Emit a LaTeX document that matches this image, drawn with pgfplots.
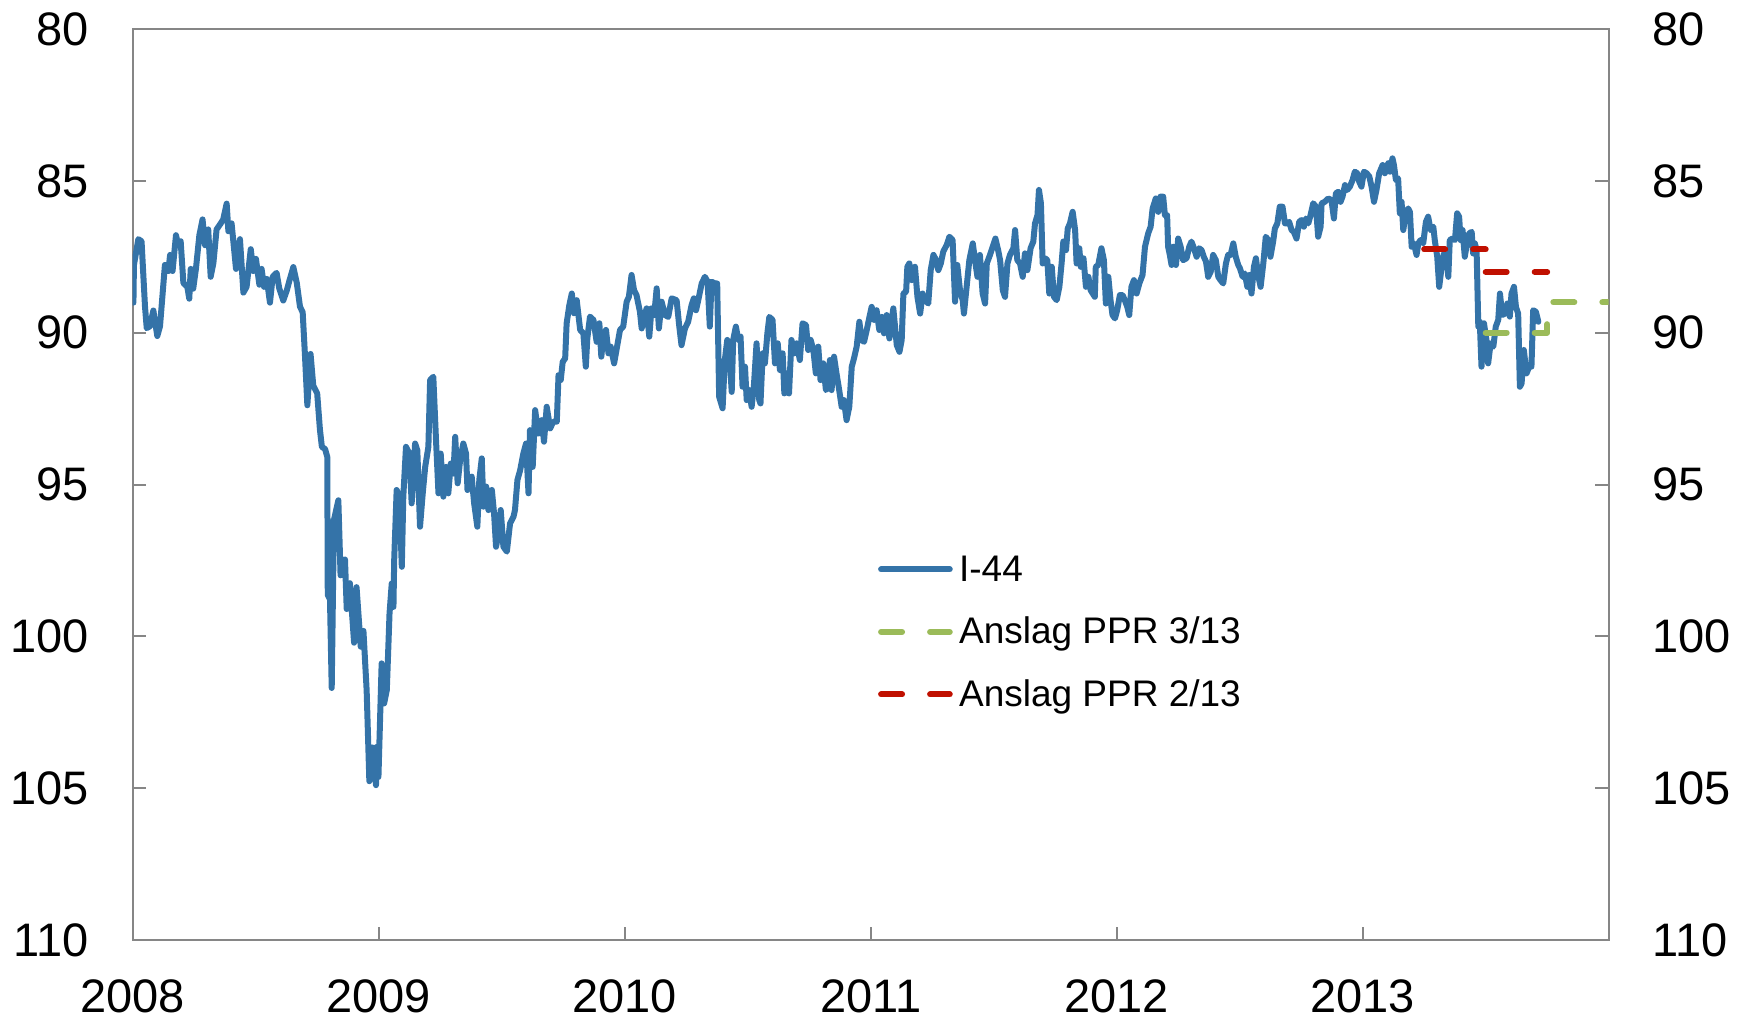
\documentclass[border=0pt]{standalone}
\usepackage{fontspec}
\setmainfont{Liberation Sans}
\usepackage{pgfplots}
\pgfplotsset{compat=1.18}
\definecolor{ablue}{RGB}{52,115,168}
\definecolor{agreen}{RGB}{155,187,89}
\definecolor{ared}{RGB}{192,16,0}
\definecolor{axisgray}{RGB}{134,134,134}
\newcommand{\tickfont}{\fontsize{14.1pt}{14.1pt}\selectfont}
\newcommand{\legfont}{\fontsize{11.1pt}{11.1pt}\selectfont}
\begin{document}
\begin{tikzpicture}
\useasboundingbox (-39.81pt,-23.7pt) rectangle (484.59pt,282.0pt);
\begin{axis}[
  at={(0pt,0pt)}, anchor=south west,
  scale only axis, width=442.8pt, height=273.3pt,
  xmin=2008, xmax=2014, ymin=80, ymax=110, y dir=reverse,
  xtick={2008,2009,2010,2011,2012,2013},
  ytick={80,85,90,95,100,105,110},
  xtick pos=bottom, ytick pos=both, yticklabel pos=left,
  tick align=inside, major tick length=4pt,
  axis line style={draw=axisgray, line width=0.6pt},
  every tick/.style={draw=axisgray, line width=0.6pt},
  /pgf/number format/assume math mode=true,
  /pgf/number format/1000 sep={},
  ticklabel style={font=\tickfont},
  yticklabel style={anchor=east, inner sep=0pt, xshift=-13pt},
  xticklabel style={anchor=north, inner sep=0pt, yshift=-11.7pt},
  legend image code/.code={\draw[#1,line cap=round] (0pt,0pt) -- (20.6pt,0pt);},
  legend style={at={(axis description cs:0.5050,0.4199)}, anchor=north west,
    draw=none, fill=none, inner sep=0pt, outer sep=0pt,
    /tikz/row sep=11.6pt, /tikz/column sep=1.9pt,
    cells={anchor=west},
    nodes={inner sep=0pt, text height=0.716em, text depth=0pt, font=\legfont}},
]
\addplot[ablue, line width=1.8pt, line join=round, line cap=round] coordinates {
(2008.003,89.01) (2008.005,87.77) (2008.023,86.92) (2008.036,86.99) (2008.050,89.14)
(2008.057,89.85) (2008.070,89.79) (2008.084,89.27) (2008.100,90.11) (2008.111,89.79)
(2008.122,88.68) (2008.131,87.77) (2008.145,87.97) (2008.152,87.44) (2008.162,87.97)
(2008.176,86.79) (2008.185,87.12) (2008.195,86.99) (2008.206,88.36) (2008.222,88.49)
(2008.230,88.88) (2008.236,87.90) (2008.246,88.55) (2008.257,87.90) (2008.271,86.79)
(2008.284,86.27) (2008.294,87.12) (2008.307,86.60) (2008.317,88.16) (2008.328,87.71)
(2008.341,86.60) (2008.358,86.40) (2008.368,86.27) (2008.382,85.75) (2008.389,86.66)
(2008.402,86.40) (2008.420,87.90) (2008.436,86.92) (2008.450,88.68) (2008.463,88.49)
(2008.480,87.25) (2008.490,87.97) (2008.501,87.57) (2008.515,88.42) (2008.524,87.90)
(2008.534,88.49) (2008.545,88.23) (2008.558,89.01) (2008.569,88.16) (2008.585,88.03)
(2008.596,88.55) (2008.612,88.94) (2008.626,88.62) (2008.637,88.29) (2008.653,87.84)
(2008.667,88.36) (2008.680,89.14) (2008.691,89.33) (2008.700,90.70) (2008.710,92.39)
(2008.723,90.70) (2008.734,91.74) (2008.750,92.00) (2008.761,93.18) (2008.769,93.76)
(2008.782,93.83) (2008.791,94.09) (2008.793,98.64) (2008.802,98.78) (2008.809,101.70)
(2008.818,96.17) (2008.836,95.52) (2008.845,97.99) (2008.863,97.47) (2008.870,99.10)
(2008.883,98.25) (2008.900,100.21) (2008.910,98.38) (2008.927,100.34) (2008.938,99.82)
(2008.951,101.77) (2008.962,104.77) (2008.975,103.66) (2008.989,104.90)
(2008.992,103.64) (2008.999,104.63) (2009.012,100.89) (2009.022,102.21) (2009.033,101.77)
(2009.044,99.25) (2009.053,98.26) (2009.060,99.03) (2009.063,97.49) (2009.073,95.18)
(2009.084,95.40) (2009.094,97.71) (2009.100,95.40) (2009.111,93.76) (2009.125,93.98)
(2009.134,95.62) (2009.148,93.65) (2009.157,93.87) (2009.168,96.39) (2009.179,95.29)
(2009.189,94.42) (2009.202,93.76) (2009.209,91.56) (2009.222,91.45) (2009.233,93.54)
(2009.243,95.29) (2009.252,93.98) (2009.263,95.40) (2009.274,94.42) (2009.283,95.29)
(2009.293,94.31) (2009.304,94.64) (2009.311,93.43) (2009.321,94.96) (2009.331,94.20)
(2009.344,93.65) (2009.355,93.98) (2009.361,95.18) (2009.378,94.74) (2009.388,95.62)
(2009.401,96.39) (2009.409,94.85) (2009.419,94.14) (2009.426,95.73) (2009.437,95.07)
(2009.446,95.84) (2009.460,95.18) (2009.469,95.95) (2009.477,97.05) (2009.487,96.61)
(2009.496,95.84) (2009.507,97.05) (2009.521,97.21) (2009.534,96.28) (2009.548,96.06)
(2009.554,95.84) (2009.564,94.85) (2009.575,94.53) (2009.588,93.98) (2009.599,93.65)
(2009.609,95.29) (2009.615,93.21) (2009.626,94.42) (2009.636,92.55) (2009.649,93.32)
(2009.663,92.88) (2009.672,93.59) (2009.683,92.44) (2009.697,93.15) (2009.710,92.93)
(2009.724,92.93) (2009.731,91.40) (2009.740,91.56) (2009.748,90.96) (2009.758,90.85)
(2009.764,89.69) (2009.775,89.09) (2009.785,88.71) (2009.794,89.36) (2009.805,88.93)
(2009.819,89.91) (2009.832,90.02) (2009.842,91.12) (2009.848,90.19) (2009.859,89.47)
(2009.873,89.58) (2009.886,90.30) (2009.897,89.69) (2009.905,90.79) (2009.913,90.13)
(2009.924,89.91) (2009.934,90.68) (2009.943,90.46) (2009.957,91.01)
(2009.981,89.91) (2009.994,89.80) (2010.008,88.98) (2010.017,88.82) (2010.028,88.10)
(2010.038,88.60) (2010.048,88.76) (2010.062,89.31) (2010.069,89.86) (2010.078,89.53)
(2010.089,89.20) (2010.100,90.13) (2010.109,89.20) (2010.120,89.42) (2010.130,88.54)
(2010.139,89.86) (2010.150,88.98) (2010.164,89.42) (2010.177,89.48) (2010.191,88.87)
(2010.211,88.93) (2010.222,89.80) (2010.231,90.41) (2010.245,89.86) (2010.258,89.64)
(2010.272,89.09) (2010.281,88.87) (2010.290,89.26) (2010.299,88.93) (2010.313,88.38)
(2010.326,88.16) (2010.337,88.32) (2010.346,89.80) (2010.353,88.32) (2010.367,88.38)
(2010.376,88.38) (2010.384,92.11) (2010.398,92.49) (2010.407,90.90) (2010.417,90.24)
(2010.425,90.57) (2010.435,91.95) (2010.441,90.24) (2010.452,89.80) (2010.462,90.24)
(2010.471,90.13) (2010.479,91.78) (2010.489,91.12) (2010.496,92.22) (2010.506,91.89)
(2010.516,92.44) (2010.525,91.78) (2010.536,90.35) (2010.547,92.22) (2010.552,92.33)
(2010.561,90.68) (2010.570,91.01) (2010.580,90.02) (2010.588,89.48) (2010.601,89.58)
(2010.611,91.01) (2010.622,90.35) (2010.631,91.23) (2010.642,90.68) (2010.649,92.00)
(2010.658,91.34) (2010.668,92.00) (2010.678,90.24) (2010.689,90.68) (2010.699,90.35)
(2010.712,90.90) (2010.723,89.69) (2010.737,89.75) (2010.746,90.57) (2010.756,90.24)
(2010.767,90.57) (2010.777,91.34) (2010.787,90.46) (2010.796,91.56) (2010.807,91.01)
(2010.818,91.89) (2010.828,91.78) (2010.834,90.90) (2010.841,91.89) (2010.851,90.79)
(2010.861,91.34) (2010.872,91.89) (2010.882,92.44) (2010.891,92.22) (2010.902,92.88)
(2010.913,92.44)
(2010.923,91.12) (2010.932,90.85) (2010.943,90.46) (2010.954,89.64) (2010.963,90.24)
(2010.973,90.30) (2010.984,89.91) (2010.995,89.48) (2011.004,89.15) (2011.014,89.58)
(2011.024,89.26) (2011.035,89.91) (2011.045,89.48) (2011.054,90.02) (2011.065,89.42)
(2011.076,90.19) (2011.092,89.20) (2011.106,90.41) (2011.117,90.63) (2011.126,90.24)
(2011.133,88.71) (2011.144,88.65) (2011.149,87.83) (2011.157,87.72) (2011.167,88.27)
(2011.180,87.83) (2011.190,88.82) (2011.201,89.37) (2011.211,88.71) (2011.221,88.93)
(2011.234,89.04) (2011.244,87.94) (2011.255,87.44) (2011.266,87.61) (2011.275,87.94)
(2011.285,87.72) (2011.295,87.33) (2011.309,87.11) (2011.320,86.84) (2011.333,86.95)
(2011.343,88.98) (2011.352,87.77) (2011.363,88.60) (2011.374,88.93) (2011.379,89.37)
(2011.390,88.49) (2011.401,87.61) (2011.415,87.06) (2011.424,87.61) (2011.434,88.16)
(2011.444,87.44) (2011.455,88.71) (2011.465,89.04) (2011.472,87.72) (2011.485,87.44)
(2011.496,87.17) (2011.507,86.90) (2011.518,87.28) (2011.526,87.61) (2011.537,88.60)
(2011.546,88.82) (2011.556,87.72) (2011.566,87.44) (2011.580,87.22) (2011.587,86.62)
(2011.596,87.61) (2011.607,87.72) (2011.618,88.16) (2011.627,87.39) (2011.637,87.94)
(2011.650,87.22) (2011.661,87.00) (2011.668,86.40) (2011.678,86.13) (2011.684,85.30)
(2011.692,85.74) (2011.699,87.72) (2011.709,87.55) (2011.718,87.61) (2011.726,88.71)
(2011.736,87.83) (2011.745,88.82) (2011.756,88.93) (2011.767,88.49) (2011.776,87.72)
(2011.783,87.00) (2011.794,87.28) (2011.801,86.57) (2011.810,86.40) (2011.821,86.02)
(2011.831,86.62) (2011.837,87.72) (2011.848,87.22) (2011.854,87.83) (2011.865,87.55)
(2011.875,88.49) (2011.885,88.16) (2011.894,88.60)
(2011.911,88.82) (2011.915,87.83) (2011.925,87.77) (2011.938,87.22) (2011.948,87.61)
(2011.956,89.04) (2011.966,88.16) (2011.975,88.93) (2011.983,89.42) (2011.993,89.53)
(2012.002,89.26) (2012.013,88.76) (2012.024,88.76) (2012.033,88.93) (2012.043,89.15)
(2012.051,89.42) (2012.060,88.49) (2012.070,88.27) (2012.081,88.71) (2012.092,88.38)
(2012.105,88.10) (2012.115,87.17) (2012.128,86.73) (2012.138,86.51) (2012.146,85.91)
(2012.159,85.58) (2012.169,86.02) (2012.178,85.52) (2012.189,85.52) (2012.196,86.13)
(2012.205,86.13) (2012.209,87.17) (2012.216,87.44) (2012.223,87.77) (2012.230,87.17)
(2012.241,87.77) (2012.250,86.90) (2012.260,87.17) (2012.270,87.61) (2012.284,87.55)
(2012.295,87.17) (2012.304,87.00) (2012.314,87.22) (2012.325,87.50) (2012.335,87.22)
(2012.345,87.28) (2012.354,87.50) (2012.363,87.66) (2012.372,88.16) (2012.382,88.00)
(2012.392,87.44) (2012.403,87.61) (2012.413,88.16) (2012.422,88.27) (2012.433,88.38)
(2012.444,87.72) (2012.453,87.44) (2012.463,87.44) (2012.474,87.06) (2012.484,87.50)
(2012.494,87.77) (2012.501,87.88) (2012.512,88.16) (2012.521,88.05) (2012.531,88.49)
(2012.539,88.10) (2012.548,88.71) (2012.558,87.83) (2012.566,87.55) (2012.575,88.10)
(2012.585,88.49) (2012.596,87.72) (2012.606,86.84) (2012.616,86.95) (2012.625,87.50)
(2012.636,87.00) (2012.643,86.57) (2012.653,86.40) (2012.663,85.85) (2012.674,85.85)
(2012.684,86.40) (2012.693,86.40) (2012.701,86.35) (2012.711,86.62) (2012.720,86.68)
(2012.731,86.90) (2012.742,86.35) (2012.751,86.29) (2012.761,86.51) (2012.769,86.24)
(2012.779,86.40) (2012.788,86.13) (2012.799,85.74) (2012.810,85.85) (2012.819,86.84)
(2012.829,86.51)
(2012.833,85.74) (2012.846,85.69) (2012.860,85.58) (2012.873,85.63) (2012.883,86.24)
(2012.891,85.41) (2012.901,85.36) (2012.910,85.69) (2012.918,85.52) (2012.928,85.14)
(2012.937,85.30) (2012.948,85.19) (2012.959,84.97) (2012.968,84.70) (2012.978,84.75)
(2012.986,85.03) (2012.995,85.19) (2013.005,84.70) (2013.016,84.75) (2013.027,84.86)
(2013.036,85.19) (2013.046,85.69) (2013.056,85.30) (2013.067,84.75) (2013.081,84.48)
(2013.090,84.75) (2013.104,84.42) (2013.111,84.70) (2013.121,84.26) (2013.127,84.48)
(2013.135,84.97) (2013.144,84.92) (2013.151,86.07) (2013.158,85.69) (2013.165,86.62)
(2013.176,86.02) (2013.185,85.91) (2013.192,86.02) (2013.199,87.17) (2013.208,87.06)
(2013.219,87.44) (2013.226,87.06) (2013.235,86.95) (2013.246,87.06) (2013.257,86.35)
(2013.266,86.18) (2013.276,86.62) (2013.287,86.51) (2013.293,86.95) (2013.303,87.50)
(2013.311,88.49) (2013.321,87.83) (2013.330,87.39) (2013.341,87.50) (2013.348,88.16)
(2013.354,86.95) (2013.365,86.90) (2013.375,86.95) (2013.384,86.07) (2013.392,86.18)
(2013.398,86.95) (2013.406,86.62) (2013.415,87.50) (2013.425,87.00) (2013.433,86.73)
(2013.443,86.68) (2013.449,87.39) (2013.456,87.06) (2013.463,87.28) (2013.470,89.80)
(2013.476,89.64) (2013.483,91.12) (2013.493,89.69) (2013.503,90.24) (2013.510,91.01)
(2013.520,90.35) (2013.531,90.46) (2013.541,89.80) (2013.551,89.58) (2013.558,88.71)
(2013.567,89.42) (2013.578,89.37) (2013.588,89.04) (2013.598,89.47) (2013.605,88.71)
(2013.615,88.49) (2013.623,89.15) (2013.632,89.37) (2013.639,91.78) (2013.646,91.67)
(2013.655,90.57) (2013.666,91.34) (2013.677,91.12) (2013.686,91.12) (2013.693,89.26)
(2013.704,89.31) (2013.714,89.64)
};
\addlegendentry{I-44}
\addplot[agreen, line width=1.8pt, line cap=round, line join=round, dash pattern=on 6.3pt off 8.4pt] coordinates {
(2013.5,90.0) (2013.75,90.0) (2013.75,89.0) (2014.0,89.0)
};
\addlegendentry{Anslag PPR 3/13}
\addplot[ared, line width=1.8pt, line cap=round, line join=round, dash pattern=on 6.3pt off 8.4pt] coordinates {
(2013.25,87.26) (2013.5,87.26)
};
\addlegendentry{Anslag PPR 2/13}
\addplot[ared, line width=1.8pt, line cap=round, line join=round, dash pattern=on 6.3pt off 8.4pt, forget plot] coordinates {
(2013.5,88.0) (2013.75,88.0)
};
\end{axis}
\begin{axis}[
  at={(0pt,0pt)}, anchor=south west,
  scale only axis, width=442.8pt, height=273.3pt,
  xmin=2008, xmax=2014, ymin=80, ymax=110, y dir=reverse,
  axis x line=none, axis y line*=right,
  axis line style={draw=none},
  ytick={80,85,90,95,100,105,110},
  ytick style={draw=none}, major tick length=0pt,
  /pgf/number format/assume math mode=true,
  yticklabel style={font=\tickfont, anchor=west, inner sep=0pt, xshift=13pt},
]
\addplot[draw=none] coordinates {(2008,80)};
\end{axis}
\end{tikzpicture}
\end{document}
